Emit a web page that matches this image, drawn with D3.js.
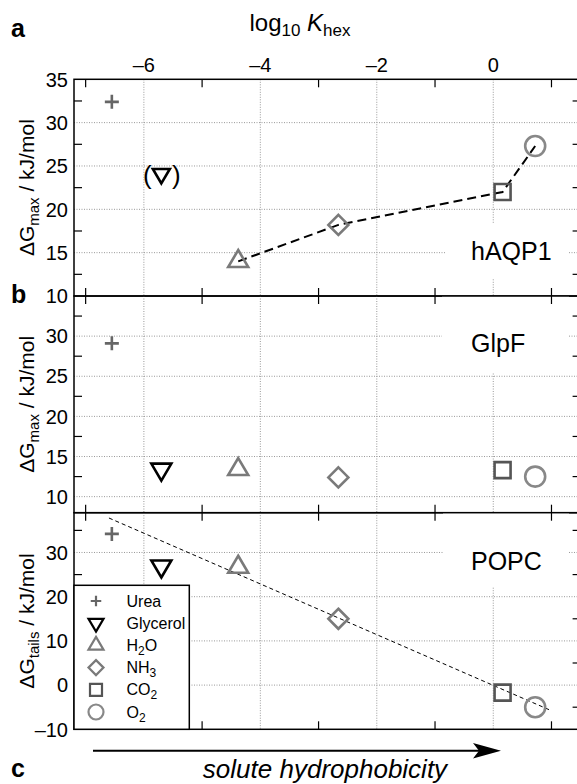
<!DOCTYPE html>
<html>
<head>
<meta charset="utf-8">
<script src="https://cdnjs.cloudflare.com/ajax/libs/d3/7.8.5/d3.min.js"></script>
<style>
  body { margin: 0; background: #fff; }
  svg { display: block; font-family: "Liberation Sans", Arial, sans-serif; }
</style>
</head>
<body>
<svg id="chart" width="577" height="784"></svg>
<script>
// data
const solutes = ["Urea", "Glycerol", "H2O", "NH3", "CO2", "O2"];
const legendLabels = [["Urea", ""], ["Glycerol", ""], ["H", "2", "O"], ["NH", "3"], ["CO", "2"], ["O", "2"]];
const logKhex = [-6.55, -5.70, -4.38, -2.66, 0.16, 0.72];
const dGmaxAQP1 = [32.4, 24.1, 14.0, 18.2, 22.0, 27.3];
const dGmaxGlpF = [29.1, 13.4, 13.4, 12.4, 13.3, 12.5];
const dGtailsPOPC = [34.2, 26.9, 26.7, 15.0, -1.7, -5.0];
const aqp1Path = ["H2O", "NH3", "CO2", "O2"];
const popcFitX = [-6.6, 1.0];
const popcFitY = [37.8, -5.8];

const xGridTicks = [-6, -4, -2, 0];
const xMinorTicks = [-7, -5, -3, -1, 1];
const yTicksA = [10, 15, 20, 25, 30, 35];
const yMinorA = [12.5, 17.5, 22.5, 27.5, 32.5];
const yTicksB = [10, 15, 20, 25, 30];
const yMinorB = [12.5, 17.5, 22.5, 27.5, 32.5];
const yTicksC = [-10, 0, 10, 20, 30];
const yMinorC = [-5, 5, 15, 25, 35];

const markerStyle = {
  Urea: { shape: "plus", color: "#666" },
  Glycerol: { shape: "down", color: "#000" },
  H2O: { shape: "up", color: "#7a7a7a" },
  NH3: { shape: "diamond", color: "#7a7a7a" },
  CO2: { shape: "square", color: "#555" },
  O2: { shape: "circle", color: "#888" }
};

function markerPath(shape, s) {
  switch (shape) {
    case "plus": return `M${-7 * s},0H${7 * s}M0,${-7 * s}V${7 * s}`;
    case "up": return `M0,${-11.3 * s}L${10 * s},${5.7 * s}L${-10 * s},${5.7 * s}Z`;
    case "down": return `M0,${11.3 * s}L${10 * s},${-5.7 * s}L${-10 * s},${-5.7 * s}Z`;
    case "diamond": return `M0,${-10 * s}L${10 * s},0L0,${10 * s}L${-10 * s},0Z`;
    case "square": return `M${-8 * s},${-8 * s}H${8 * s}V${8 * s}H${-8 * s}Z`;
    case "circle": {
      const r = 10 * s;
      return `M${r},0A${r},${r} 0 1,1 ${-r},0A${r},${r} 0 1,1 ${r},0Z`;
    }
  }
}

const svg = d3.select("#chart");
const left = 74, right = 580.6;
const x = d3.scaleLinear().domain([-7.2, 1.5]).range([left, right]);

const panels = [
  { name: "hAQP1", values: dGmaxAQP1, y: d3.scaleLinear().domain([10, 35]).range([296, 79.3]),
    ticks: yTicksA, minor: yMinorA, sub: "max", textY: 260, box: [446, 224, 569, 278] },
  { name: "GlpF", values: dGmaxGlpF, y: d3.scaleLinear().domain([8, 35]).range([512.7, 296]),
    ticks: yTicksB, minor: yMinorB, sub: "max", textY: 352, box: [442, 296, 569, 372] },
  { name: "POPC", values: dGtailsPOPC, y: d3.scaleLinear().domain([-10, 39]).range([729.3, 512.7]),
    ticks: yTicksC, minor: yMinorC, sub: "tails", textY: 570, box: [443, 512.7, 569, 587] }
];

const tickLen = 8;
const fmt = v => (v < 0 ? "\u2013" + Math.abs(v) : String(v));

panels.forEach((p, pi) => {
  const g = svg.append("g");
  const [y0, y1] = [p.y.range()[1], p.y.range()[0]];

  // dotted grid
  g.selectAll(".hgrid").data(p.ticks.filter(t => t > p.y.domain()[0] && t < p.y.domain()[1]))
    .join("line")
    .attr("x1", left).attr("x2", right)
    .attr("y1", d => p.y(d)).attr("y2", d => p.y(d))
    .attr("stroke", "#999").attr("stroke-width", 1).attr("stroke-dasharray", "1,1.5");
  g.selectAll(".vgrid").data(xGridTicks)
    .join("line")
    .attr("x1", d => x(d)).attr("x2", d => x(d))
    .attr("y1", y0).attr("y2", y1)
    .attr("stroke", "#999").attr("stroke-width", 1).attr("stroke-dasharray", "1,1.5");

  // white box behind the panel name
  g.append("rect")
    .attr("x", p.box[0]).attr("y", p.box[1])
    .attr("width", p.box[2] - p.box[0]).attr("height", p.box[3] - p.box[1])
    .attr("fill", "#fff");

  // ticks (left/right minor, top/bottom odd x)
  p.minor.forEach(t => {
    g.append("line").attr("x1", left).attr("x2", left + tickLen)
      .attr("y1", p.y(t)).attr("y2", p.y(t)).attr("stroke", "#000").attr("stroke-width", 1.2);
    g.append("line").attr("x1", right - tickLen).attr("x2", right)
      .attr("y1", p.y(t)).attr("y2", p.y(t)).attr("stroke", "#000").attr("stroke-width", 1.2);
  });
  xMinorTicks.forEach(t => {
    g.append("line").attr("x1", x(t)).attr("x2", x(t))
      .attr("y1", y0).attr("y2", y0 + tickLen).attr("stroke", "#000").attr("stroke-width", 1.2);
    g.append("line").attr("x1", x(t)).attr("x2", x(t))
      .attr("y1", y1 - tickLen).attr("y2", y1).attr("stroke", "#000").attr("stroke-width", 1.2);
  });

  // y tick labels
  g.selectAll(".ylab").data(p.ticks)
    .join("text")
    .attr("x", 68).attr("y", d => p.y(d)).attr("dy", "0.36em")
    .attr("text-anchor", "end").attr("font-size", 20)
    .text(fmt);

  // y axis title
  const yt = g.append("text")
    .attr("transform", `translate(34,${(y0 + y1) / 2}) rotate(-90)`)
    .attr("text-anchor", "middle").attr("font-size", 21);
  yt.append("tspan").text("\u0394G");
  yt.append("tspan").attr("dy", 5).attr("font-size", 15).text(p.sub);
  yt.append("tspan").attr("dy", -5).text(" / kJ/mol");

  // panel name
  g.append("text").attr("x", 471).attr("y", p.textY)
    .attr("font-size", 25).text(p.name);

  // connecting lines
  if (pi === 0) {
    const pts = aqp1Path.map(s => [x(logKhex[solutes.indexOf(s)]), p.y(p.values[solutes.indexOf(s)])]);
    g.append("path").attr("d", d3.line()(pts))
      .attr("fill", "none").attr("stroke", "#000").attr("stroke-width", 2)
      .attr("stroke-dasharray", "9,5");
  }
  if (pi === 2) {
    const pts = popcFitX.map((v, i) => [x(v), p.y(popcFitY[i])]);
    g.append("path").attr("d", d3.line()(pts))
      .attr("fill", "none").attr("stroke", "#000").attr("stroke-width", 1)
      .attr("stroke-dasharray", "4,3");
  }

  // markers
  solutes.forEach((s, i) => {
    const st = markerStyle[s];
    const sc = (pi === 0 && s === "Glycerol") ? 0.85 : 1;
    g.append("path")
      .attr("transform", `translate(${x(logKhex[i])},${p.y(p.values[i])})`)
      .attr("d", markerPath(st.shape, sc))
      .attr("fill", "none").attr("stroke", st.color).attr("stroke-width", 2.6);
    if (pi === 0 && s === "Glycerol") {
      g.append("text").attr("x", x(logKhex[i]) - 14).attr("y", p.y(p.values[i]) + 10)
        .attr("text-anchor", "middle").attr("font-size", 26).text("(");
      g.append("text").attr("x", x(logKhex[i]) + 15).attr("y", p.y(p.values[i]) + 10)
        .attr("text-anchor", "middle").attr("font-size", 26).text(")");
    }
  });

  // frame
  g.append("rect").attr("x", left).attr("y", y0)
    .attr("width", right - left).attr("height", y1 - y0)
    .attr("fill", "none").attr("stroke", "#000").attr("stroke-width", 1.5);
});

// top x axis labels
svg.selectAll(".xlab").data(xGridTicks)
  .join("text")
  .attr("x", d => x(d)).attr("y", 71.5)
  .attr("text-anchor", "middle").attr("font-size", 20)
  .text(fmt);

const title = svg.append("text").attr("x", 300).attr("y", 31)
  .attr("text-anchor", "middle").attr("font-size", 24);
title.append("tspan").text("log");
title.append("tspan").attr("dy", 5).attr("font-size", 17).text("10");
title.append("tspan").attr("dy", -5).text(" ");
title.append("tspan").attr("font-style", "italic").text("K");
title.append("tspan").attr("dy", 5).attr("font-size", 17).text("hex");

// panel letters
[["a", 37], ["b", 303], ["c", 777]].forEach(([t, yy]) => {
  svg.append("text").attr("x", 11).attr("y", yy)
    .attr("font-size", 25).attr("font-weight", "bold").text(t);
});

// legend
const pc = panels[2];
const lg = svg.append("g");
lg.append("rect").attr("x", left).attr("y", 585.3)
  .attr("width", 115.3).attr("height", pc.y.range()[0] - 585.3)
  .attr("fill", "#fff").attr("stroke", "#000").attr("stroke-width", 1.5);
solutes.forEach((s, i) => {
  const yy = 601 + i * 22.2;
  const st = markerStyle[s];
  lg.append("path").attr("transform", `translate(96,${yy})`)
    .attr("d", markerPath(st.shape, 0.75))
    .attr("fill", "none").attr("stroke", st.color).attr("stroke-width", 2.2);
  const t = lg.append("text").attr("x", 126.5).attr("y", yy + 5.5).attr("font-size", 16);
  const parts = legendLabels[i];
  t.append("tspan").text(parts[0]);
  if (parts[1]) t.append("tspan").attr("dy", 4).attr("font-size", 12).text(parts[1]);
  if (parts[2]) t.append("tspan").attr("dy", -4).text(parts[2]);
});

// hydrophobicity arrow
svg.append("line").attr("x1", 93).attr("x2", 480).attr("y1", 750.7).attr("y2", 750.7)
  .attr("stroke", "#000").attr("stroke-width", 2);
svg.append("path").attr("d", "M501,750.7L473,743L479,750.7L473,758.4Z").attr("fill", "#000");
svg.append("text").attr("x", 325).attr("y", 777.5)
  .attr("text-anchor", "middle").attr("font-size", 26).attr("font-style", "italic")
  .text("solute hydrophobicity");
</script>
</body>
</html>
